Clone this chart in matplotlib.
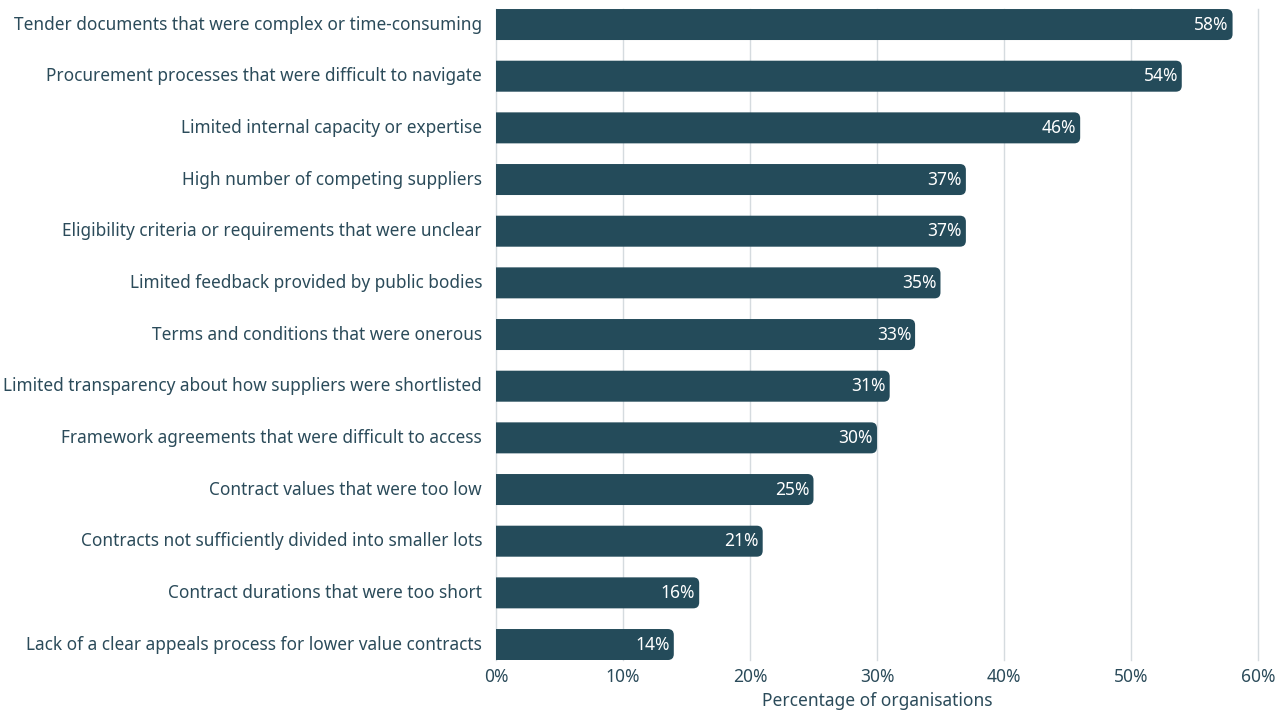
import matplotlib
matplotlib.use("Agg")
import matplotlib.pyplot as plt
from matplotlib.patches import FancyBboxPatch

# data
categories = [
    "Tender documents that were complex or time-consuming",
    "Procurement processes that were difficult to navigate",
    "Limited internal capacity or expertise",
    "High number of competing suppliers",
    "Eligibility criteria or requirements that were unclear",
    "Limited feedback provided by public bodies",
    "Terms and conditions that were onerous",
    "Limited transparency about how suppliers were shortlisted",
    "Framework agreements that were difficult to access",
    "Contract values that were too low",
    "Contracts not sufficiently divided into smaller lots",
    "Contract durations that were too short",
    "Lack of a clear appeals process for lower value contracts",
]
values = [58, 54, 46, 37, 37, 35, 33, 31, 30, 25, 21, 16, 14]
xticks = [0, 10, 20, 30, 40, 50, 60]

bar_color = "#244b5a"
text_color = "#2b4b5a"
grid_color = "#d5dbdf"

plt.rcParams["font.family"] = ["Noto Sans", "DejaVu Sans"]

fig = plt.figure(figsize=(12.86, 7.11), dpi=100)
ax = fig.add_axes([0.3857, 0.0717, 0.5925, 0.9156])

bh = 0.6
ax.set_xlim(0, 60)
ax.set_ylim(len(categories) - 1 + bh / 2, -bh / 2)

# rounded right ends: radius in x units, aspect converts to y units.
# box starts left of 0 so the axes clip gives a square left end
r = 0.47
aspect = 0.245
for i, v in enumerate(values):
    p = FancyBboxPatch((-1, i - bh / 2), v + 1, bh,
                       boxstyle=f"round,pad=0,rounding_size={r}",
                       mutation_aspect=aspect,
                       facecolor=bar_color, edgecolor="none", zorder=2)
    ax.add_patch(p)
    ax.text(v - 0.3, i, f"{v}%", ha="right", va="center",
            color="white", fontsize=12.5, zorder=3)

ax.set_yticks(range(len(categories)))
ax.set_yticklabels(categories, va="center")
ax.set_xticks(xticks)
ax.set_xticklabels([f"{t}%" for t in xticks])
ax.tick_params(axis="y", length=0, pad=10, labelsize=12.4, labelcolor=text_color)
ax.tick_params(axis="x", length=0, pad=6, labelsize=12.5, labelcolor=text_color)
ax.set_xlabel("Percentage of organisations", fontsize=12.5, color=text_color, labelpad=4)

ax.grid(axis="x", color=grid_color, linewidth=1, zorder=0)
ax.set_axisbelow(True)
for gl in ax.get_xgridlines():
    gl.set_clip_on(False)
for s in ax.spines.values():
    s.set_visible(False)

fig.savefig("out.png", dpi=100)
